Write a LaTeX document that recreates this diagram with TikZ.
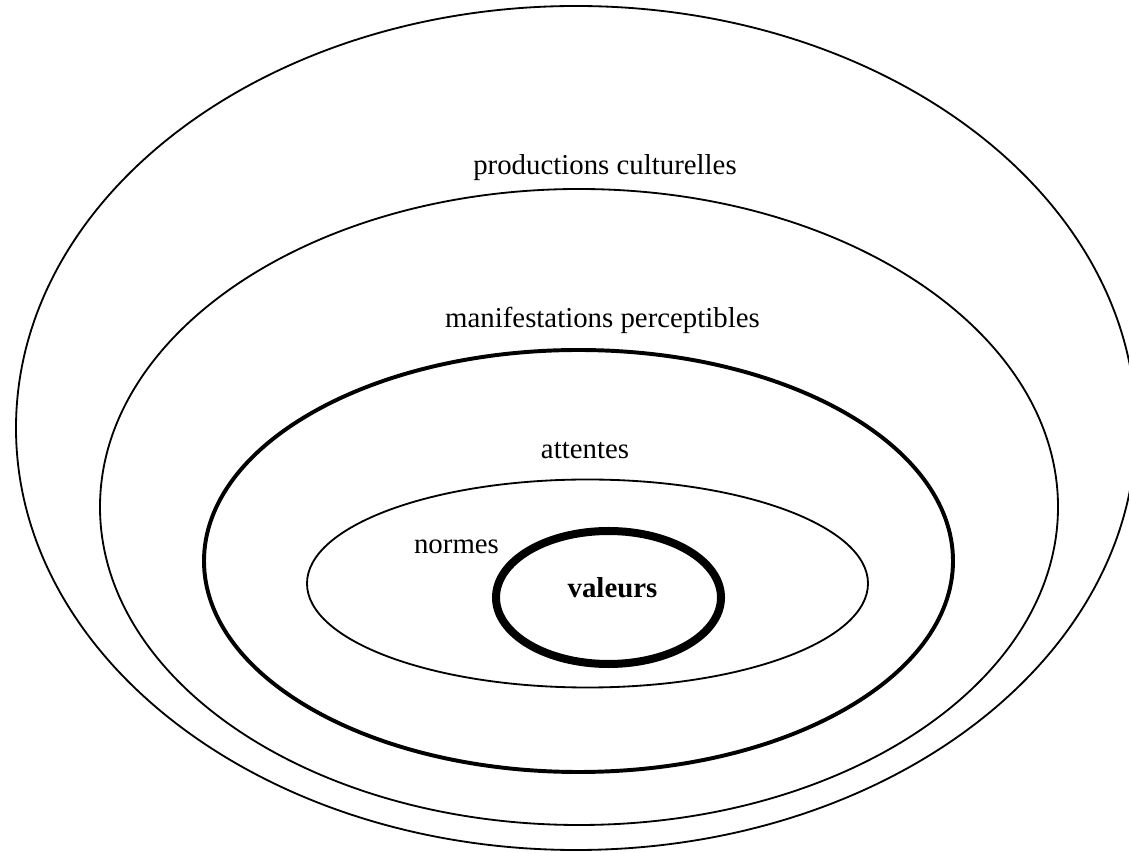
\documentclass[tikz,border=0pt]{standalone}
\usepackage{fontspec}
\setmainfont{Liberation Serif}

\begin{document}
\begin{tikzpicture}
  [x=0.025cm,y=0.025cm,every node/.style={font=\fontsize{20.5}{24}\selectfont}]
  \useasboundingbox (0,0) rectangle (1129,853);
  \clip (0,0) rectangle (1129,853);

  \foreach \cx/\cy/\rx/\ry/\w in {576/425/560/422/1.3pt, 579/346/479/318/1.3pt,
      578.5/292/374.5/211/2.8pt, 587.5/269.5/280.5/104/1.3pt, 608.5/255.5/112.5/66.5/5.7pt}
    \draw[line width=\w] (\cx,\cy) ellipse [x radius=\rx, y radius=\ry];

  \node[anchor=base] (prod) at (605,678) {productions culturelles};
  \node[anchor=base] (manif) at (602.5,525) {manifestations perceptibles};
  \node[anchor=base] (att) at (585,394) {attentes};
  \node[anchor=base] (norm) at (456.5,299) {normes};
  \node[anchor=base,font=\fontsize{20.5}{24}\selectfont\bfseries] (val) at (612.5,255) {valeurs};

\end{tikzpicture}
\end{document}
